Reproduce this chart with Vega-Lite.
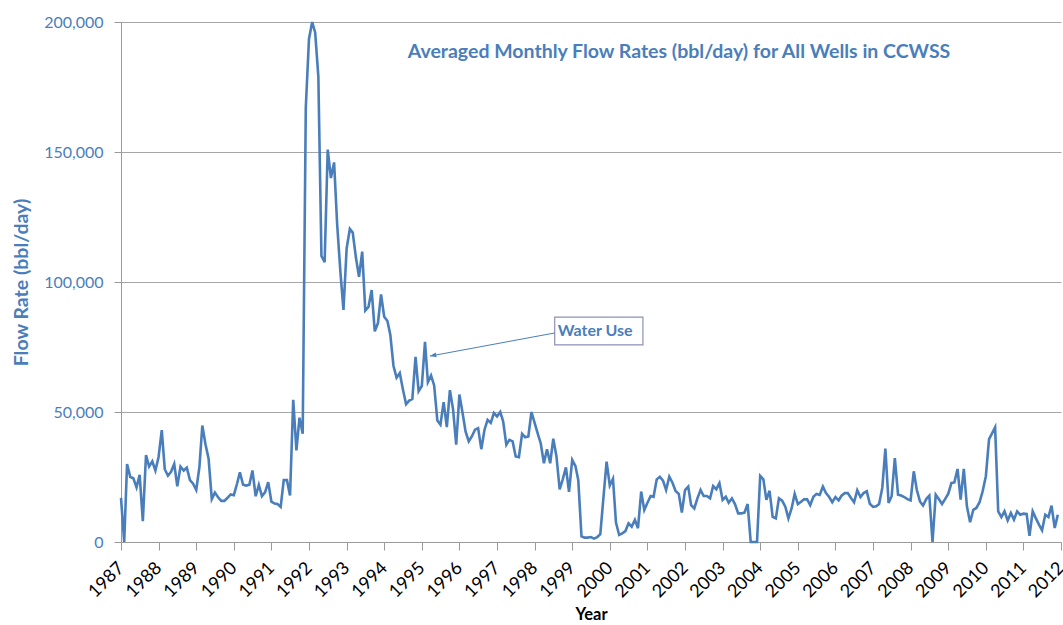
{
  "$schema": "https://vega.github.io/schema/vega-lite/v6.json",
  "width": 940,
  "height": 520,
  "autosize": "none",
  "padding": {"left": 121, "top": 22, "right": 2, "bottom": 83},
  "background": "white",
  "config": {"view": {"stroke": null}, "font": "Lato"},
  "title": {"text": "Averaged Monthly Flow Rates (bbl/day) for All Wells in CCWSS", "anchor": "middle", "frame": "group", "offset": -48, "dx": 88, "fontSize": 19.5, "fontWeight": "bold", "color": "#4A7EBB", "font": "Lato"},
  "datasets": {
    "flow": [
      {"d":"1987-01-01","v":17000},{"d":"1987-02-01","v":0},{"d":"1987-03-01","v":30000},{"d":"1987-04-01","v":25000},{"d":"1987-05-01","v":24500},{"d":"1987-06-01","v":21000},{"d":"1987-07-01","v":25800},{"d":"1987-08-01","v":8000},{"d":"1987-09-01","v":33400},{"d":"1987-10-01","v":29000},{"d":"1987-11-01","v":31000},{"d":"1987-12-01","v":27500},
      {"d":"1988-01-01","v":32700},{"d":"1988-02-01","v":43000},{"d":"1988-03-01","v":28000},{"d":"1988-04-01","v":25500},{"d":"1988-05-01","v":27000},{"d":"1988-06-01","v":30000},{"d":"1988-07-01","v":21400},{"d":"1988-08-01","v":29000},{"d":"1988-09-01","v":27500},{"d":"1988-10-01","v":28600},{"d":"1988-11-01","v":23800},{"d":"1988-12-01","v":22400},
      {"d":"1989-01-01","v":20000},{"d":"1989-02-01","v":29000},{"d":"1989-03-01","v":44800},{"d":"1989-04-01","v":37500},{"d":"1989-05-01","v":32000},{"d":"1989-06-01","v":16500},{"d":"1989-07-01","v":19000},{"d":"1989-08-01","v":17200},{"d":"1989-09-01","v":15800},{"d":"1989-10-01","v":15800},{"d":"1989-11-01","v":17000},{"d":"1989-12-01","v":18300},
      {"d":"1990-01-01","v":18000},{"d":"1990-02-01","v":22400},{"d":"1990-03-01","v":26800},{"d":"1990-04-01","v":22000},{"d":"1990-05-01","v":21700},{"d":"1990-06-01","v":22000},{"d":"1990-07-01","v":27500},{"d":"1990-08-01","v":17600},{"d":"1990-09-01","v":22000},{"d":"1990-10-01","v":17600},{"d":"1990-11-01","v":19200},{"d":"1990-12-01","v":23000},
      {"d":"1991-01-01","v":15500},{"d":"1991-02-01","v":14800},{"d":"1991-03-01","v":14600},{"d":"1991-04-01","v":13500},{"d":"1991-05-01","v":23800},{"d":"1991-06-01","v":23800},{"d":"1991-07-01","v":17900},{"d":"1991-08-01","v":54700},{"d":"1991-09-01","v":35200},{"d":"1991-10-01","v":47800},{"d":"1991-11-01","v":41600},{"d":"1991-12-01","v":167000},
      {"d":"1992-01-01","v":193500},{"d":"1992-02-01","v":200000},{"d":"1992-03-01","v":196000},{"d":"1992-04-01","v":179000},{"d":"1992-05-01","v":110000},{"d":"1992-06-01","v":107600},{"d":"1992-07-01","v":150900},{"d":"1992-08-01","v":140000},{"d":"1992-09-01","v":146000},{"d":"1992-10-01","v":122000},{"d":"1992-11-01","v":104000},{"d":"1992-12-01","v":89300},
      {"d":"1993-01-01","v":113000},{"d":"1993-02-01","v":120400},{"d":"1993-03-01","v":119000},{"d":"1993-04-01","v":109400},{"d":"1993-05-01","v":102000},{"d":"1993-06-01","v":111700},{"d":"1993-07-01","v":89000},{"d":"1993-08-01","v":90400},{"d":"1993-09-01","v":96900},{"d":"1993-10-01","v":81000},{"d":"1993-11-01","v":84200},{"d":"1993-12-01","v":95200},
      {"d":"1994-01-01","v":86600},{"d":"1994-02-01","v":85000},{"d":"1994-03-01","v":79700},{"d":"1994-04-01","v":67700},{"d":"1994-05-01","v":63200},{"d":"1994-06-01","v":65000},{"d":"1994-07-01","v":58800},{"d":"1994-08-01","v":53000},{"d":"1994-09-01","v":54400},{"d":"1994-10-01","v":55000},{"d":"1994-11-01","v":71200},{"d":"1994-12-01","v":58000},
      {"d":"1995-01-01","v":60000},{"d":"1995-02-01","v":77000},{"d":"1995-03-01","v":61500},{"d":"1995-04-01","v":64000},{"d":"1995-05-01","v":60200},{"d":"1995-06-01","v":46700},{"d":"1995-07-01","v":45100},{"d":"1995-08-01","v":53800},{"d":"1995-09-01","v":44200},{"d":"1995-10-01","v":58400},{"d":"1995-11-01","v":50900},{"d":"1995-12-01","v":37400},
      {"d":"1996-01-01","v":56700},{"d":"1996-02-01","v":49600},{"d":"1996-03-01","v":42500},{"d":"1996-04-01","v":38700},{"d":"1996-05-01","v":40600},{"d":"1996-06-01","v":43200},{"d":"1996-07-01","v":43800},{"d":"1996-08-01","v":35700},{"d":"1996-09-01","v":43200},{"d":"1996-10-01","v":47000},{"d":"1996-11-01","v":45800},{"d":"1996-12-01","v":49600},
      {"d":"1997-01-01","v":48300},{"d":"1997-02-01","v":50000},{"d":"1997-03-01","v":46400},{"d":"1997-04-01","v":37400},{"d":"1997-05-01","v":39300},{"d":"1997-06-01","v":38700},{"d":"1997-07-01","v":32900},{"d":"1997-08-01","v":32600},{"d":"1997-09-01","v":41600},{"d":"1997-10-01","v":40300},{"d":"1997-11-01","v":40600},{"d":"1997-12-01","v":50000},
      {"d":"1998-01-01","v":45800},{"d":"1998-02-01","v":41600},{"d":"1998-03-01","v":38000},{"d":"1998-04-01","v":30300},{"d":"1998-05-01","v":35700},{"d":"1998-06-01","v":30300},{"d":"1998-07-01","v":39700},{"d":"1998-08-01","v":32900},{"d":"1998-09-01","v":20200},{"d":"1998-10-01","v":24100},{"d":"1998-11-01","v":28700},{"d":"1998-12-01","v":19300},
      {"d":"1999-01-01","v":31600},{"d":"1999-02-01","v":29300},{"d":"1999-03-01","v":23800},{"d":"1999-04-01","v":2200},{"d":"1999-05-01","v":1700},{"d":"1999-06-01","v":1700},{"d":"1999-07-01","v":1900},{"d":"1999-08-01","v":1300},{"d":"1999-09-01","v":1900},{"d":"1999-10-01","v":3000},{"d":"1999-11-01","v":17400},{"d":"1999-12-01","v":30900},
      {"d":"2000-01-01","v":21700},{"d":"2000-02-01","v":24300},{"d":"2000-03-01","v":7500},{"d":"2000-04-01","v":2700},{"d":"2000-05-01","v":3300},{"d":"2000-06-01","v":4200},{"d":"2000-07-01","v":7200},{"d":"2000-08-01","v":5900},{"d":"2000-09-01","v":8500},{"d":"2000-10-01","v":5300},{"d":"2000-11-01","v":19400},{"d":"2000-12-01","v":12300},
      {"d":"2001-01-01","v":15100},{"d":"2001-02-01","v":17700},{"d":"2001-03-01","v":17400},{"d":"2001-04-01","v":24100},{"d":"2001-05-01","v":25100},{"d":"2001-06-01","v":23600},{"d":"2001-07-01","v":20000},{"d":"2001-08-01","v":25100},{"d":"2001-09-01","v":22800},{"d":"2001-10-01","v":19600},{"d":"2001-11-01","v":18500},{"d":"2001-12-01","v":11300},
      {"d":"2002-01-01","v":20000},{"d":"2002-02-01","v":21300},{"d":"2002-03-01","v":14200},{"d":"2002-04-01","v":12900},{"d":"2002-05-01","v":16800},{"d":"2002-06-01","v":20000},{"d":"2002-07-01","v":17700},{"d":"2002-08-01","v":17700},{"d":"2002-09-01","v":16800},{"d":"2002-10-01","v":21500},{"d":"2002-11-01","v":20300},{"d":"2002-12-01","v":22600},
      {"d":"2003-01-01","v":16200},{"d":"2003-02-01","v":17400},{"d":"2003-03-01","v":15100},{"d":"2003-04-01","v":16800},{"d":"2003-05-01","v":14600},{"d":"2003-06-01","v":11000},{"d":"2003-07-01","v":11000},{"d":"2003-08-01","v":11300},{"d":"2003-09-01","v":14600},{"d":"2003-10-01","v":0},{"d":"2003-11-01","v":0},{"d":"2003-12-01","v":0},
      {"d":"2004-01-01","v":25400},{"d":"2004-02-01","v":24100},{"d":"2004-03-01","v":16200},{"d":"2004-04-01","v":19700},{"d":"2004-05-01","v":9700},{"d":"2004-06-01","v":9100},{"d":"2004-07-01","v":16800},{"d":"2004-08-01","v":15900},{"d":"2004-09-01","v":13600},{"d":"2004-10-01","v":9100},{"d":"2004-11-01","v":12900},{"d":"2004-12-01","v":18500},
      {"d":"2005-01-01","v":14600},{"d":"2005-02-01","v":15500},{"d":"2005-03-01","v":16400},{"d":"2005-04-01","v":16400},{"d":"2005-05-01","v":14200},{"d":"2005-06-01","v":17400},{"d":"2005-07-01","v":18500},{"d":"2005-08-01","v":18100},{"d":"2005-09-01","v":21300},{"d":"2005-10-01","v":18800},{"d":"2005-11-01","v":17300},{"d":"2005-12-01","v":15300},
      {"d":"2006-01-01","v":17300},{"d":"2006-02-01","v":16000},{"d":"2006-03-01","v":17800},{"d":"2006-04-01","v":18800},{"d":"2006-05-01","v":18800},{"d":"2006-06-01","v":16900},{"d":"2006-07-01","v":15300},{"d":"2006-08-01","v":19900},{"d":"2006-09-01","v":17300},{"d":"2006-10-01","v":18800},{"d":"2006-11-01","v":19500},{"d":"2006-12-01","v":14700},
      {"d":"2007-01-01","v":13500},{"d":"2007-02-01","v":13700},{"d":"2007-03-01","v":14600},{"d":"2007-04-01","v":20800},{"d":"2007-05-01","v":35900},{"d":"2007-06-01","v":15000},{"d":"2007-07-01","v":17600},{"d":"2007-08-01","v":32300},{"d":"2007-09-01","v":18200},{"d":"2007-10-01","v":17900},{"d":"2007-11-01","v":17300},{"d":"2007-12-01","v":16500},
      {"d":"2008-01-01","v":16000},{"d":"2008-02-01","v":27200},{"d":"2008-03-01","v":20100},{"d":"2008-04-01","v":15600},{"d":"2008-05-01","v":14000},{"d":"2008-06-01","v":16500},{"d":"2008-07-01","v":17800},{"d":"2008-08-01","v":0},{"d":"2008-09-01","v":18200},{"d":"2008-10-01","v":16500},{"d":"2008-11-01","v":14600},{"d":"2008-12-01","v":16500},
      {"d":"2009-01-01","v":18600},{"d":"2009-02-01","v":22700},{"d":"2009-03-01","v":22900},{"d":"2009-04-01","v":28100},{"d":"2009-05-01","v":16300},{"d":"2009-06-01","v":28100},{"d":"2009-07-01","v":13700},{"d":"2009-08-01","v":7600},{"d":"2009-09-01","v":12400},{"d":"2009-10-01","v":13100},{"d":"2009-11-01","v":15300},{"d":"2009-12-01","v":19500},
      {"d":"2010-01-01","v":25300},{"d":"2010-02-01","v":39600},{"d":"2010-03-01","v":41700},{"d":"2010-04-01","v":44100},{"d":"2010-05-01","v":11800},{"d":"2010-06-01","v":9600},{"d":"2010-07-01","v":11800},{"d":"2010-08-01","v":8300},{"d":"2010-09-01","v":11200},{"d":"2010-10-01","v":8600},{"d":"2010-11-01","v":11800},{"d":"2010-12-01","v":10500},
      {"d":"2011-01-01","v":10900},{"d":"2011-02-01","v":10800},{"d":"2011-03-01","v":2400},{"d":"2011-04-01","v":11800},{"d":"2011-05-01","v":9200},{"d":"2011-06-01","v":6700},{"d":"2011-07-01","v":4500},{"d":"2011-08-01","v":10500},{"d":"2011-09-01","v":9600},{"d":"2011-10-01","v":14000},{"d":"2011-11-01","v":5400},{"d":"2011-12-01","v":10500}
    ],
    "note": [
      {"d":"1998-07-15","d2":"2000-11-18","v":86500,"v2":75800,"label":"Water Use","td":"1999-08-12","tv":81200}
    ],
    "arrow": [
      {"d":"1995-03-21","v":71500,"d2":"1998-07-15","v2":80400}
    ]
  },
  "layer": [
    {
      "data": {"name": "flow"},
      "mark": {"type": "line", "color": "#4A7EBB", "strokeWidth": 2.6, "clip": false},
      "encoding": {
        "x": {"field": "d", "type": "temporal", "title": "Year",
          "scale": {"type": "utc", "domain": [{"year": 1987, "month": 1, "date": 1, "utc": true}, {"year": 2012, "month": 1, "date": 1, "utc": true}]},
          "axis": {"format": "%Y", "tickCount": {"interval": "year", "step": 1}, "grid": false, "labelAngle": -45, "labelAlign": "right", "labelBaseline": "middle", "labelFontSize": 18, "labelColor": "#000000", "labelFont": "Lato", "labelPadding": 15, "labelOverlap": false, "labelFlush": false, "labelBound": false, "domainColor": "#9A9A9A", "tickColor": "#9A9A9A", "tickSize": 8, "titleFontSize": 16.5, "titleFont": "Lato", "titleFontWeight": "bold", "titleColor": "#000000", "titlePadding": 6}},
        "y": {"field": "v", "type": "quantitative", "title": "Flow Rate (bbl/day)",
          "scale": {"domain": [0, 200000], "nice": false, "zero": true},
          "axis": {"values": [0, 50000, 100000, 150000, 200000], "format": ",d", "grid": true, "gridColor": "#A6A6A6", "gridWidth": 1.2, "labelFontSize": 16, "labelColor": "#4A7EBB", "labelFont": "Lato", "labelPadding": 11, "domainColor": "#9A9A9A", "tickColor": "#9A9A9A", "tickSize": 7, "titleFontSize": 19.5, "titleFont": "Lato", "titleFontWeight": "bold", "titleColor": "#4A7EBB", "titlePadding": 12}}
      }
    },
    {
      "data": {"name": "note"},
      "mark": {"type": "rect", "fill": "white", "stroke": "#8C8FB8", "strokeWidth": 1.2},
      "encoding": {
        "x": {"field": "d", "type": "temporal", "title": "Year", "scale": {"type": "utc"}},
        "x2": {"field": "d2"},
        "y": {"field": "v", "type": "quantitative", "title": "Flow Rate (bbl/day)"},
        "y2": {"field": "v2"}
      }
    },
    {
      "data": {"name": "note"},
      "mark": {"type": "text", "color": "#4A7EBB", "fontSize": 16, "fontWeight": "bold", "font": "Lato", "align": "center", "baseline": "middle"},
      "encoding": {
        "x": {"field": "td", "type": "temporal", "title": "Year", "scale": {"type": "utc"}},
        "y": {"field": "tv", "type": "quantitative", "title": "Flow Rate (bbl/day)"},
        "text": {"field": "label"}
      }
    },
    {
      "data": {"name": "arrow"},
      "mark": {"type": "rule", "color": "#4A7EBB", "strokeWidth": 1},
      "encoding": {
        "x": {"field": "d", "type": "temporal", "title": "Year", "scale": {"type": "utc"}},
        "x2": {"field": "d2"},
        "y": {"field": "v", "type": "quantitative", "title": "Flow Rate (bbl/day)"},
        "y2": {"field": "v2"}
      }
    },
    {
      "data": {"name": "arrow"},
      "mark": {"type": "point", "shape": "M0,0L2,-0.75L2,0.75Z", "filled": true, "color": "#4A7EBB", "opacity": 1, "size": 40, "angle": 349},
      "encoding": {
        "x": {"field": "d", "type": "temporal", "title": "Year", "scale": {"type": "utc"}},
        "y": {"field": "v", "type": "quantitative", "title": "Flow Rate (bbl/day)"}
      }
    }
  ]
}
